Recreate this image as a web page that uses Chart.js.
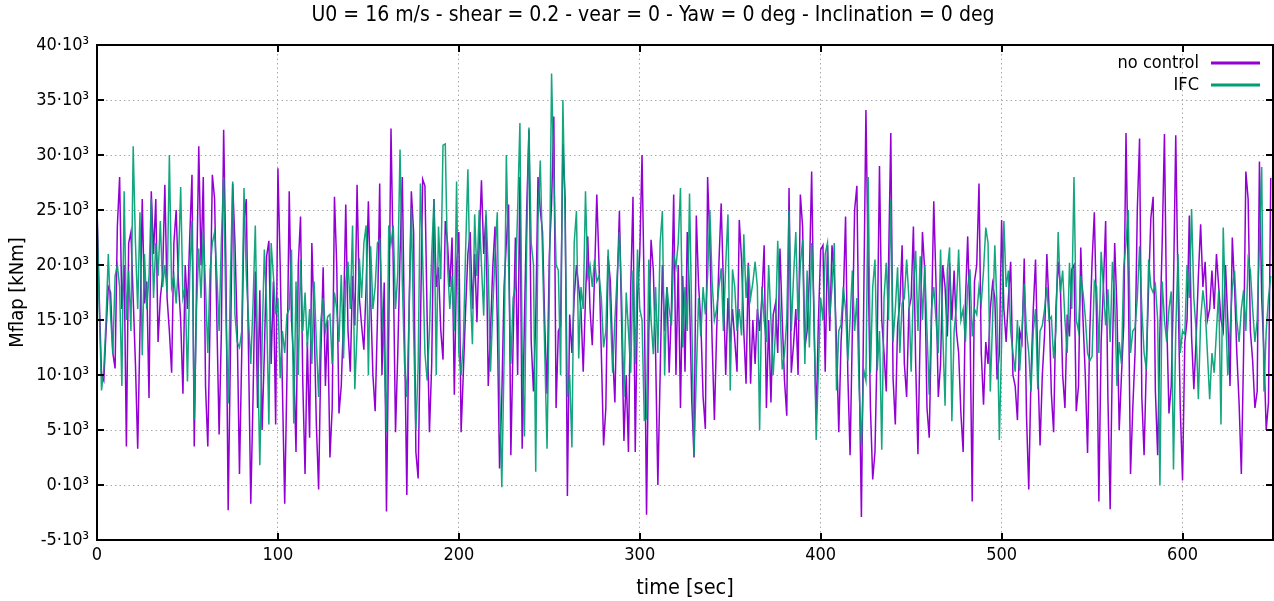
<!DOCTYPE html>
<html>
<head>
<meta charset="utf-8">
<title>Mflap time series</title>
<script src="https://cdn.jsdelivr.net/npm/chart.js@4.4.1/dist/chart.umd.min.js"></script>
<style>
  html, body { margin: 0; padding: 0; background: #fff; }
  canvas { display: block; }
</style>
</head>
<body>
<canvas id="chart" width="1274" height="601"></canvas>
<script>
// flapwise blade root moment, in units of 10^3 kNm, sampled every 1.25 s
var dt = 1.25;

var noControl = [
  25.3, 17, 10, 9.5, 14, 18, 17.5, 12, 10.6, 23.5, 28, 16, 20, 3.5, 22, 23, 17, 11, 3.3, 14, 26, 16.5, 18.5, 7.9, 26.7, 21,
  26, 13, 17, 19, 27.3, 17, 14, 10.2, 22, 25, 18.5, 15, 8.3, 20, 16, 22.5, 28.2, 3.5, 18, 30.8, 20, 28, 8.9, 3.5, 15, 28.2,
  26, 15, 4.6, 14, 32.3, 20, -2.3, 12, 27.4, 22, 14, 1, 12, 24, 26, 12, -1.7, 8, 19.4, 7, 17.7, 5, 12, 20.8, 22.2,
  11, 18.5, 5.5, 28.8, 20, 8.7, -1.7, 10, 26.7, 15, 11, 3, 20, 24.4, 9.3, 1, 13, 4.3, 22, 15, 5.5, -0.4, 12, 19.8, 9, 15,
  2.5, 7, 26.2, 20, 6.5, 9, 15, 25.5, 14, 10.3, 19, 14.5, 27.3, 17, 14.5, 12.3, 18, 25.8, 17, 10, 6.7, 15, 27.4, 10, 18.4,
  -2.4, 14, 32.4, 20, 4.8, 12, 21, 28, 13.5, -0.9, 16, 26.7, 23, 3, 0.6, 14, 27.8, 27.2, 15, 4.8, 11, 26, 18, 19.8, 14.1, 11.4,
  24, 22, 18, 22.5, 8.2, 20, 23, 4.8, 10.3, 16, 21, 23, 16, 21, 14.8, 22, 27.7, 21, 24.5, 9, 14, 19.8, 23.5, 15, 1.5,
  8, 18, 22, 25.5, 2.7, 13, 22.5, 10, 28, 3.3, 15, 25, 32.3, 13, 8.5, 15, 28, 25, 23, 14.5, 8.3, 20.8, 25.6, 33.5, 7, 14,
  14.5, 31, 26, -1, 15.5, 12, 17, 20, 18, 16, 10.3, 17, 22.6, 16, 12.7, 19, 26.4, 20, 12, 3.6, 7, 20.8, 18.5, 12, 7.5,
  18, 24.9, 14.5, 4, 10, 3, 18, 26.2, 3, 17, 21, 30, 17, -2.7, 14, 22.3, 19.5, 12, 0, 10, 20, 14, 18, 10.2, 16, 26.4,
  10, 20, 7, 19, 10.3, 23, 17, 7.6, 2.5, 24.5, 18.2, 14.8, 8, 5.1, 28, 22, 13, 5.9, 14, 20.2, 25.6, 18, 10, 17, 13,
  16, 13.2, 10.3, 24.1, 20.5, 14, 9.2, 20.2, 9.2, 15, 11, 16, 14, 17, 21.8, 7, 15, 7.5, 15.5, 16.5, 12, 21.5, 15, 9.5, 6.3, 27,
  10.2, 12.8, 16, 10, 26.4, 23.5, 12.5, 14, 19, 28.5, 15, 5.9, 15, 21.4, 21.8, 10.3, 21.8, 14, 21.8, 19, 13, 4.8, 13, 17, 24.4,
  10, 2.7, 14, 25, 27.2, 11, -2.9, 16.2, 34.1, 20, 7, 0.5, 3, 13, 29, 15, 12, 8.5, 20, 32, 9.7, 5.5, 14.5, 16.6, 21.8,
  11, 8, 16, 17, 23.5, 11, 2.8, 14, 23, 19.5, 7, 4.3, 15, 25.8, 18.3, 8, 11, 20, 18, 13.5, 20.2, 15, 19.5, 14, 12,
  6.5, 3, 16.7, 22.6, 15, -1.5, 18.5, 20, 27.4, 12, 7.3, 13, 11, 16, 18.3, 17, 9.6, 12, 24.1, 16, 13, 17, 20.3, 10, 9, 5.9,
  14, 13, 20.6, 6.3, -0.4, 10, 16, 20.5, 11, 3.6, 10, 13.7, 21, 16, 8.3, 4.8, 16, 20.3, 18, 10, 7, 15.5, 13.5, 19.6, 20,
  6.7, 9, 21.6, 15, 10, 2.9, 14, 20.3, 24.8, 15, -1.5, 13, 18, 24, 8, -2.2, 12, 22, 16, 5, 10, 14.5, 32, 19, 1, 7,
  12, 25, 31.5, 8, 2.7, 11, 18, 24.3, 26.2, 8.5, 2.7, 14, 22, 31.9, 15, 6.5, 9, 18, 31.8, 18, 7, 0.4, 13, 15, 24.5,
  13.5, 8.7, 13.2, 19, 23.7, 18, 20.3, 15, 16, 19.5, 16, 21, 18, 15, 14, 20, 15, 9, 22.5, 18, 12, 7.5, 1, 12, 28.5,
  26, 14, 11.3, 7, 8.5, 29.4, 17, 12, 5, 7.5, 27.9
];

var ifc = [
  25, 16, 8.6, 10.5, 15, 21, 15.5, 11.9, 19, 20, 18, 9, 26.7, 15, 19.5, 14, 30.8, 22, 16, 24.8, 11.8, 21, 16, 19, 26, 17,
  22, 19, 24, 18, 20, 17.5, 30, 18, 19, 16.5, 20, 27.1, 17, 18, 9.4, 19, 24, 5.9, 16, 21.5, 17, 23, 18, 12, 19.5, 22,
  23, 19.1, 14, 22.3, 28, 15.5, 7.4, 18.8, 27.6, 15.5, 13, 12.5, 14, 27, 19.2, 15, 11, 16.5, 23.6, 12, 1.8, 13, 21.4, 16, 5.5,
  22, 19, 15.5, 17, 9.7, 14, 12, 15.5, 16, 21.4, 5.6, 18.5, 10, 20.5, 14, 17.5, 12.5, 16, 11, 18.5, 13, 8, 15, 17, 14, 15.3,
  15.5, 11, 17.5, 16, 13, 19.1, 11.5, 18.5, 20.3, 16, 23.6, 8.7, 14, 20.6, 17, 22, 23.6, 10, 21.7, 16, 18, 22, 22.3, 16.5, 12,
  4.8, 23.6, 21.9, 23.6, 16, 19.3, 30.5, 18.5, 11, 8, 15.5, 25.2, 14, 5, 10.8, 27.4, 20.6, 12, 9.5, 14, 21, 26, 10, 23.5, 18.7, 30.9,
  31, 20, 16, 19, 14, 27.6, 12, 10, 13, 21.4, 28.7, 18, 12.8, 24.6, 19, 25, 20, 15.4, 25, 19.5, 10.3, 16, 21, 24.8, 9,
  -0.2, 11.5, 30, 20, 11, 17, 18, 25, 32.9, 12, 4.4, 22, 32.5, 22, 20, 1.2, 24, 29.5, 21, 12, 3.3, 17, 37.4, 28, 20, 19.5,
  10, 35, 24, 8, 10, 3.4, 22, 24.9, 11.5, 18, 16, 26.7, 19, 20, 18, 20.5, 18.5, 19, 17, 12.5, 14, 21.4, 16, 10.2, 15,
  19, 23, 17, 8, 17.5, 14, 10.2, 19.5, 11, 21.4, 16, 15, 5.9, 6, 20.5, 15, 11.9, 18, 12, 22, 24.9, 10, 18, 16, 14.5, 21,
  19.8, 22, 27, 12.5, 18, 14, 26.5, 15, 2.7, 10, 17, 13.5, 18, 15.5, 19, 25, 18.4, 15, 16, 18, 19.7, 14, 20, 24.6, 8.6,
  19.6, 18, 14, 16, 13.6, 22.8, 17, 20, 17, 18.4, 20.3, 18, 5, 18, 15, 13, 20, 15, 10, 14, 22.2, 16, 10.5, 12, 15, 25,
  14, 19, 23, 15, 20, 22.3, 11, 19.5, 12.5, 22, 16.5, 4.1, 10.5, 17, 15, 21, 22, 15.3, 18, 22, 8.6, 14, 14.6, 18, 16,
  11.3, 15, 19.5, 14, 17, 8.8, 3.6, 10.5, 9.5, 28, 10.2, 18, 20.5, 10.4, 14, 3.2, 17, 20.2, 15, 26, 13, 16, 19.8, 12, 16.5,
  17, 20.5, 17, 10.3, 18, 21.3, 14, 20.8, 15, 20, 14, 8.2, 16, 18, 15, 12, 21.4, 13.7, 7.2, 19.5, 21.6, 5.8, 14, 16.3, 21.4,
  15, 16, 13, 18, 19.6, 13.5, 16, 15.5, 18, 16.5, 19.5, 23.4, 22, 8.5, 15, 21.8, 16, 4.1, 13, 24, 18, 19.5, 14, 12, 10.3, 15,
  10.4, 14, 18.3, 14, 12, 8.5, 14, 16, 8.7, 14, 14.5, 16, 18, 15, 15.3, 11.5, 14, 23, 17.5, 19.5, 15, 12, 20.2, 16, 28,
  15, 14, 19, 17.5, 15.3, 12, 11.3, 11.7, 18.5, 18, 12, 21.2, 18, 14.5, 17.8, 13, 20.3, 17, 9, 13, 11, 19.8, 22, 25, 12, 14,
  14.3, 17, 21.7, 16, 12, 10.5, 20.5, 18, 17.5, 18.2, 15, 0, 18.5, 15, 13, 16, 17.6, 1.4, 14, 21, 12, 14, 13.7, 20, 17,
  25.1, 17, 14, 7.8, 15, 17.7, 16, 12, 7.8, 12, 10.2, 14, 17.7, 5.5, 23.4, 16, 10, 14, 18, 19.5, 15, 13, 16, 17.7, 14,
  20.5, 19.5, 16, 13, 15, 22, 28.9, 8.5, 14, 17, 19
];

var xTicks = [0, 100, 200, 300, 400, 500, 600];
var yTicks = [-5, 0, 5, 10, 15, 20, 25, 30, 35, 40];
var titleText = 'U0 = 16 m/s - shear = 0.2 - vear = 0 - Yaw = 0 deg - Inclination = 0 deg';

var time = noControl.map(function (_, i) { return i * dt; });

function toPoints(vals) {
  return vals.map(function (v, i) { return { x: time[i], y: v }; });
}

var FONT = "'DejaVu Sans Condensed', 'DejaVu Sans', sans-serif";

// gnuplot-style box: heavy border plus inward ticks on all four sides,
// the title, and a key with the text left of the line sample
var boxPlugin = {
  id: 'box',
  afterDraw: function (chart) {
    var ctx = chart.ctx, a = chart.chartArea;
    var xs = chart.scales.x, ys = chart.scales.y;
    ctx.save();
    ctx.strokeStyle = '#000';
    ctx.lineWidth = 2;
    ctx.beginPath();
    xTicks.forEach(function (t) {
      var px = Math.round(xs.getPixelForValue(t));
      ctx.moveTo(px, a.bottom); ctx.lineTo(px, a.bottom - 7);
      ctx.moveTo(px, a.top); ctx.lineTo(px, a.top + 7);
    });
    yTicks.forEach(function (t) {
      var py = Math.round(ys.getPixelForValue(t));
      ctx.moveTo(a.left, py); ctx.lineTo(a.left + 7, py);
      ctx.moveTo(a.right, py); ctx.lineTo(a.right - 7, py);
    });
    ctx.stroke();
    ctx.strokeRect(a.left, a.top, a.right - a.left, a.bottom - a.top);

    ctx.fillStyle = '#000';
    ctx.textBaseline = 'middle';
    ctx.textAlign = 'center';
    ctx.font = '21px ' + FONT;
    ctx.fillText(titleText, 653, 16);

    // key
    ctx.font = '18px ' + FONT;
    ctx.textAlign = 'right';
    chart.data.datasets.forEach(function (ds, i) {
      var yy = a.top + 18 + i * 22;
      ctx.fillStyle = '#000';
      ctx.fillText(ds.label, 1199, yy);
      ctx.strokeStyle = ds.keyColor;
      ctx.lineWidth = 3;
      ctx.beginPath();
      ctx.moveTo(1211, yy);
      ctx.lineTo(1260, yy);
      ctx.stroke();
    });
    ctx.restore();
  }
};

new Chart(document.getElementById('chart'), {
  type: 'line',
  data: {
    datasets: [
      {
        label: 'no control',
        data: toPoints(noControl),
        borderColor: '#9400d3',
        keyColor: '#9400d3',
        borderWidth: 1.5,
        pointRadius: 0,
        tension: 0,
        order: 1
      },
      {
        label: 'IFC',
        data: toPoints(ifc),
        borderColor: 'rgba(0, 158, 115, 0.92)',
        keyColor: '#009e73',
        borderWidth: 1.5,
        pointRadius: 0,
        tension: 0,
        order: 0
      }
    ]
  },
  options: {
    responsive: false,
    animation: false,
    layout: { padding: { left: 0, right: 1, top: 45, bottom: 0 } },
    plugins: {
      legend: { display: false },
      tooltip: { enabled: false },
      title: { display: false }
    },
    scales: {
      x: {
        type: 'linear',
        min: 0,
        max: 650,
        afterFit: function (s) { s.height = 61; },
        afterBuildTicks: function (s) { s.ticks = xTicks.map(function (v) { return { value: v }; }); },
        ticks: { color: '#000', padding: 5, font: { family: FONT, size: 18 } },
        grid: { color: '#a8a8a8', lineWidth: 1, drawTicks: false },
        border: { display: false, dash: [1.5, 3] },
        title: {
          display: true,
          text: 'time [sec]',
          color: '#000',
          font: { family: FONT, size: 21.5 },
          padding: { top: 6, bottom: 0 }
        }
      },
      y: {
        min: -5,
        max: 40,
        afterFit: function (s) { s.width = 97; },
        afterBuildTicks: function (s) { s.ticks = yTicks.map(function (v) { return { value: v }; }); },
        ticks: {
          color: '#000',
          padding: 8,
          font: { family: FONT, size: 18 },
          callback: function (v) { return v + '\u00b710\u00b3'; }
        },
        grid: { color: '#a8a8a8', lineWidth: 1, drawTicks: false },
        border: { display: false, dash: [1.5, 3] },
        title: {
          display: true,
          text: 'Mflap [kNm]',
          color: '#000',
          font: { family: FONT, size: 20 },
          padding: { top: 6, bottom: 0 }
        }
      }
    }
  },
  plugins: [boxPlugin]
});
</script>
</body>
</html>
